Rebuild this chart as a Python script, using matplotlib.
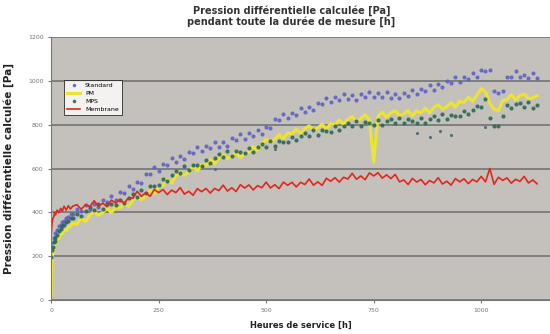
import numpy as np
import matplotlib.pyplot as plt

# heures de service (debut plus serre, puis tous les 10 h)
heures = np.array([0, 2, 4, 6, 8, 10, 14, 18, 22, 26, 30, 35, 40, 45, 50]
                  + list(range(60, 1140, 10)))

standard = [195, 238, 262, 285, 288, 304, 318, 338, 342, 358, 360, 374, 378, 392, 394,
            415, 405, 434, 416, 439, 425, 456, 447, 476, 458,
            495, 487, 519, 506, 539, 535, 574, 573, 606, 590,
            622, 614, 646, 630, 656, 645, 677, 671, 700, 680,
            705, 692, 719, 698, 719, 705, 737, 730, 756, 735,
            760, 747, 774, 758, 789, 785, 824, 820, 851, 830,
            855, 844, 874, 856, 880, 869, 901, 895, 922, 902,
            928, 914, 940, 916, 934, 915, 939, 927, 950, 925,
            945, 927, 950, 924, 939, 920, 945, 933, 958, 938,
            965, 952, 979, 960, 984, 970, 999, 990, 1016, 995,
            1020, 1007, 1034, 1018, 1049, 1045, 1049, 955, 946, 955,
            1020, 1017, 1044, 1016, 1029, 1013, 1034, 1015]

pm = [20, 185, 218, 232, 250, 255, 276, 282, 300, 302, 316, 318, 334, 336, 350,
      346, 374, 358, 387, 403, 386, 399, 419, 398, 425,
      420, 444, 426, 455, 471, 457, 475, 501, 486, 519,
      520, 549, 534, 565, 583, 569, 585, 608, 589, 617,
      614, 640, 621, 649, 663, 645, 655, 673, 649, 673,
      674, 700, 684, 715, 733, 719, 733, 755, 736, 763,
      758, 780, 758, 783, 795, 775, 785, 803, 780, 805,
      799, 822, 801, 825, 837, 817, 827, 845, 822, 630,
      838, 858, 834, 855, 863, 841, 849, 865, 840, 863,
      854, 876, 854, 879, 891, 871, 882, 901, 880, 907,
      902, 926, 906, 935, 965, 951, 897, 871, 864, 910,
      914, 937, 914, 933, 940, 919, 922, 933]

mps = [195, 228, 240, 265, 268, 285, 295, 316, 322, 338, 342, 358, 360, 373, 374,
       393, 382, 406, 422, 409, 438, 417, 440, 436, 433,
       458, 443, 465, 482, 471, 504, 489, 518, 520, 524,
       554, 543, 569, 588, 578, 610, 591, 616, 614, 613,
       640, 626, 649, 664, 651, 680, 658, 680, 674, 670,
       694, 677, 697, 710, 696, 724, 703, 726, 722, 720,
       746, 729, 749, 762, 748, 776, 754, 776, 771, 768,
       792, 775, 795, 808, 793, 819, 795, 814, 806, 800,
       820, 799, 816, 826, 808, 832, 806, 824, 815, 808,
       829, 809, 827, 838, 822, 848, 825, 846, 841, 838,
       863, 847, 869, 886, 883, 916, 829, 796, 796, 838,
       888, 875, 893, 900, 879, 905, 876, 890]

membrane = [300, 345, 372, 378, 398, 388, 410, 398, 418, 405, 428, 410, 430, 415, 428,
            435, 414, 435, 426, 453, 426, 442, 425, 456, 442,
            459, 441, 467, 464, 496, 473, 490, 473, 504, 490,
            504, 481, 501, 490, 513, 483, 496, 478, 508, 494,
            509, 488, 509, 499, 524, 497, 512, 495, 526, 511,
            525, 502, 522, 512, 538, 511, 526, 508, 538, 523,
            537, 516, 537, 527, 552, 524, 539, 523, 555, 542,
            558, 538, 560, 552, 578, 551, 566, 549, 580, 566,
            581, 556, 571, 554, 573, 539, 548, 527, 555, 538,
            550, 526, 545, 534, 558, 529, 542, 524, 554, 539,
            553, 531, 550, 539, 564, 539, 600, 528, 560, 546,
            557, 533, 551, 541, 564, 534, 548, 530]

# points isoles sous les bandes
h_isoles = [380, 520, 850, 880, 905, 930, 1010]
mps_isoles = [600, 690, 760, 745, 770, 755, 790]

fig = plt.figure(figsize=(5.5, 3.34), dpi=100)
ax = fig.add_axes([0.093, 0.102, 0.907, 0.787])
ax.set_facecolor('#c4c1bc')

ax.plot(heures, standard, '.', color='#5b5fc4', ms=4, alpha=0.8, label='Standard')
ax.plot(heures, pm, '-', color='#ece42e', lw=2.2, label='PM')
ax.plot(heures, mps, '.', color='#2d6a57', ms=4, alpha=0.85, label='MPS')
ax.plot(h_isoles, mps_isoles, '.', color='#55707a', ms=2.5)
ax.plot(heures, membrane, '-', color='#e3261c', lw=1.2, label='Membrane')

ax.set_xlim(0, 1160)
ax.set_ylim(0, 1200)
ax.set_xticks([0, 250, 500, 750, 1000])
ax.set_yticks(range(0, 1201, 200))
ax.tick_params(labelsize=4.5, colors='#777777', length=2)
ax.yaxis.grid(True, color='#7a7a7a', lw=1.3)
ax.set_axisbelow(True)
for s in ['top', 'right']:
    ax.spines[s].set_visible(False)
ax.spines['left'].set_color('#777777')
ax.spines['bottom'].set_color('#777777')

fig.suptitle('Pression différentielle calculée [Pa]\npendant toute la durée de mesure [h]',
             x=0.53, y=0.985, fontsize=7, fontweight='bold', color='#333333',
             linespacing=1.1)
ax.set_ylabel('Pression différentielle calculée [Pa]', fontsize=7.5, fontweight='bold',
              color='#222222', labelpad=10)
ax.set_xlabel('Heures de service [h]', fontsize=6, fontweight='bold', color='#222222',
              labelpad=6)

leg = ax.legend(loc='upper left', bbox_to_anchor=(0.02, 0.85), fontsize=4.5,
                frameon=True, fancybox=False, edgecolor='black', borderpad=0.5,
                handlelength=2, labelspacing=0.4, markerscale=0.8)
leg.get_frame().set_linewidth(0.6)

fig.savefig('out.png', dpi=100)
